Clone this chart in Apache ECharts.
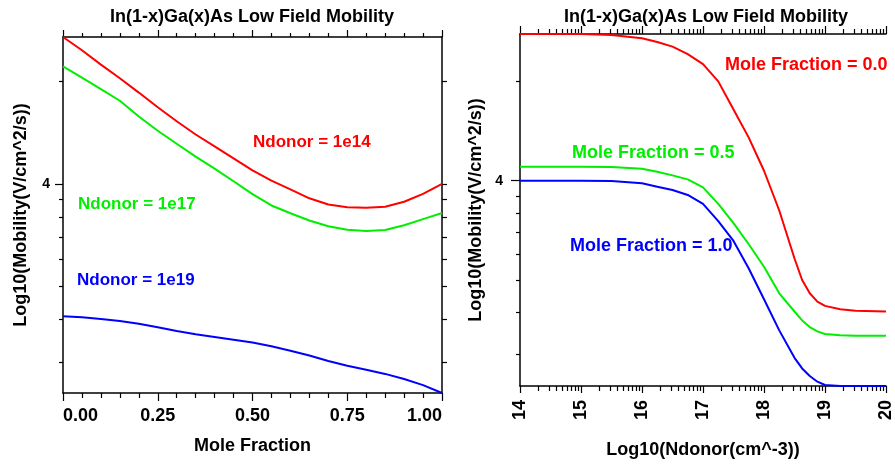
<!DOCTYPE html>
<html>
<head>
<meta charset="utf-8">
<script src="https://cdn.jsdelivr.net/npm/echarts@6/dist/echarts.min.js"></script>
<style>
html,body{margin:0;padding:0;background:#fff;}
#chart{width:895px;height:464px;}
</style>
</head>
<body>
<div id="chart"></div>
<script>
// ---------- Left panel: Log10(mobility) vs mole fraction ----------
const moleFraction = [0,0.05,0.1,0.15,0.2,0.25,0.3,0.35,0.4,0.45,0.5,0.55,0.6,0.65,0.7,0.75,0.8,0.85,0.9,0.95,1.0];
const mobNd1e14 = [4.431,4.392,4.350,4.310,4.268,4.225,4.184,4.145,4.110,4.075,4.040,4.010,3.984,3.958,3.940,3.932,3.930,3.933,3.948,3.971,4.000];
const mobNd1e17 = [4.345,4.312,4.278,4.244,4.198,4.156,4.118,4.080,4.045,4.008,3.970,3.937,3.914,3.893,3.876,3.866,3.862,3.865,3.879,3.897,3.915];
const mobNd1e19 = [3.612,3.609,3.604,3.598,3.590,3.580,3.569,3.559,3.551,3.543,3.535,3.524,3.511,3.497,3.481,3.467,3.455,3.443,3.428,3.410,3.387];

// ---------- Right panel: Log10(mobility) vs Log10(Ndonor) ----------
const logNdonor = [14,14.5,15,15.5,16,16.25,16.5,16.75,17,17.25,17.5,17.75,18,18.25,18.5,18.625,18.75,18.875,19,19.25,19.5,20];
const mobX00 = [4.443,4.443,4.443,4.440,4.430,4.419,4.405,4.382,4.352,4.300,4.215,4.130,4.030,3.910,3.765,3.700,3.660,3.635,3.622,3.612,3.607,3.605];
const mobX05 = [4.042,4.042,4.042,4.041,4.036,4.027,4.016,4.004,3.980,3.930,3.872,3.808,3.740,3.660,3.605,3.578,3.558,3.545,3.537,3.533,3.532,3.532];
const mobX10 = [4.000,4.000,4.000,3.999,3.992,3.982,3.972,3.957,3.930,3.878,3.818,3.735,3.642,3.548,3.465,3.433,3.410,3.393,3.383,3.380,3.380,3.380];

// ---------- Axis ranges and tick values ----------
const leftYRange = [3.387, 4.431];
const rightYRange = [3.380, 4.443];
const mobilityTickValues = [2000,3000,4000,5000,6000,7000,8000,9000,20000]; // minor (log) ticks
const mobilityMajorTicks = [4];
const ndonorDecades = [14,15,16,17,18,19,20];
const ndonorMinorMultipliers = [2,3,4,5,6,7,8,9];

const title = 'In(1-x)Ga(x)As Low Field Mobility';
const leftLabels = ['Ndonor = 1e14','Ndonor = 1e17','Ndonor = 1e19'];
const rightLabels = ['Mole Fraction = 0.0','Mole Fraction = 0.5','Mole Fraction = 1.0'];
const colors = ['#ff0000','#00ee00','#0000ff'];

// ---------- build ----------
const FONT = 'Liberation Sans, Arial, Helvetica, sans-serif';
function inRange(v, r){ return v >= r[0]-1e-9 && v <= r[1]+1e-9; }
const minorLog = mobilityTickValues.map(v => Math.log10(v));
const leftMinor = minorLog.filter(v => inRange(v, leftYRange));
const rightMinor = minorLog.filter(v => inRange(v, rightYRange));
const ndMinor = [];
ndonorDecades.slice(0,-1).forEach(d => ndonorMinorMultipliers.forEach(k => ndMinor.push(d + Math.log10(k))));

const axisLine = {show:true, lineStyle:{color:'#000', width:1.5}};
const tickStyle = {color:'#000', width:1.2};
const pair = (xs, ys) => xs.map((x,i)=>[x, ys[i]]);

const grids = [
  {left:63, top:37, width:379, height:356},
  {left:520, top:34, width:373, height:354}
];

const xAxis = [
  {gridIndex:0, type:'value', position:'bottom', min:0, max:1, interval:0.25,
   axisLine, axisTick:{length:8, lineStyle:tickStyle},
   minorTick:{show:true, splitNumber:5, length:5, lineStyle:tickStyle},
   splitLine:{show:false}, minorSplitLine:{show:false},
   axisLabel:{margin:14, fontFamily:FONT, fontWeight:'bold', fontSize:18, color:'#000',
     formatter: v => v.toFixed(2), alignMinLabel:'left', alignMaxLabel:'right'},
   name:'Mole Fraction', nameLocation:'middle', nameGap:44,
   nameTextStyle:{fontFamily:FONT, fontWeight:'bold', fontSize:18, color:'#000', verticalAlign:'top'}},
  {gridIndex:0, type:'value', position:'top', min:0, max:1, interval:0.25,
   axisLine, axisTick:{length:7, lineStyle:tickStyle},
   minorTick:{show:true, splitNumber:5, length:4, lineStyle:tickStyle},
   splitLine:{show:false}, axisLabel:{show:false}},
  {gridIndex:1, type:'value', position:'bottom', min:14, max:20, interval:1,
   axisLine, axisTick:{length:7, lineStyle:tickStyle}, splitLine:{show:false},
   axisLabel:{rotate:90, margin:14, fontFamily:FONT, fontWeight:'bold', fontSize:18, color:'#000'},
   name:'Log10(Ndonor(cm^-3))', nameLocation:'middle', nameGap:55,
   nameTextStyle:{fontFamily:FONT, fontWeight:'bold', fontSize:18, color:'#000', verticalAlign:'top'}},
  {gridIndex:1, type:'value', position:'bottom', min:14, max:20,
   axisLine:{show:false}, axisTick:{length:5, customValues:ndMinor, lineStyle:tickStyle},
   splitLine:{show:false}, axisLabel:{show:false}},
  {gridIndex:1, type:'value', position:'top', min:14, max:20, interval:1,
   axisLine, axisTick:{length:8, lineStyle:tickStyle}, splitLine:{show:false}, axisLabel:{show:false}},
  {gridIndex:1, type:'value', position:'top', min:14, max:20,
   axisLine:{show:false}, axisTick:{length:5, customValues:ndMinor, lineStyle:tickStyle},
   splitLine:{show:false}, axisLabel:{show:false}}
];

const yName = 'Log10(Mobility(V/cm^2/s))';
const yAxis = [
  {gridIndex:0, type:'value', position:'left', min:leftYRange[0], max:leftYRange[1],
   axisLine, axisTick:{length:8, customValues:mobilityMajorTicks, lineStyle:tickStyle}, splitLine:{show:false},
   axisLabel:{customValues:mobilityMajorTicks, margin:13, fontFamily:FONT, fontWeight:'bold', fontSize:14, color:'#000'},
   name:yName, nameLocation:'middle', nameGap:33,
   nameTextStyle:{fontFamily:FONT, fontWeight:'bold', fontSize:18, color:'#000'}},
  {gridIndex:0, type:'value', position:'left', min:leftYRange[0], max:leftYRange[1],
   axisLine:{show:false}, axisTick:{length:4, customValues:leftMinor, lineStyle:tickStyle},
   splitLine:{show:false}, axisLabel:{show:false}},
  {gridIndex:0, type:'value', position:'right', min:leftYRange[0], max:leftYRange[1],
   axisLine, axisTick:{length:5, customValues:leftMinor.concat(mobilityMajorTicks), lineStyle:tickStyle},
   splitLine:{show:false}, axisLabel:{show:false}},
  {gridIndex:1, type:'value', position:'left', min:rightYRange[0], max:rightYRange[1],
   axisLine, axisTick:{length:9, customValues:mobilityMajorTicks, lineStyle:tickStyle}, splitLine:{show:false},
   axisLabel:{customValues:mobilityMajorTicks, margin:17, fontFamily:FONT, fontWeight:'bold', fontSize:14, color:'#000'},
   name:yName, nameLocation:'middle', nameGap:35,
   nameTextStyle:{fontFamily:FONT, fontWeight:'bold', fontSize:18, color:'#000'}},
  {gridIndex:1, type:'value', position:'left', min:rightYRange[0], max:rightYRange[1],
   axisLine:{show:false}, axisTick:{length:4, customValues:rightMinor, lineStyle:tickStyle},
   splitLine:{show:false}, axisLabel:{show:false}}
];

function line(xi, yi, xs, ys, color){
  return {type:'line', xAxisIndex:xi, yAxisIndex:yi, data:pair(xs, ys),
    showSymbol:false, smooth:false, clip:false, animation:false,
    lineStyle:{color, width:2}, itemStyle:{color}};
}
const series = [
  line(0,0,moleFraction,mobNd1e14,colors[0]),
  line(0,0,moleFraction,mobNd1e17,colors[1]),
  line(0,0,moleFraction,mobNd1e19,colors[2]),
  line(2,3,logNdonor,mobX00,colors[0]),
  line(2,3,logNdonor,mobX05,colors[1]),
  line(2,3,logNdonor,mobX10,colors[2])
];

const labelFont = (s) => 'bold ' + s + 'px ' + FONT;
function txt(text, x, y, color, size){
  return {type:'text', x, y, silent:true,
    style:{text, fill:color, font:labelFont(size), textAlign:'left', textVerticalAlign:'middle'}};
}
const graphic = [
  txt(leftLabels[0], 253, 142, colors[0], 17),
  txt(leftLabels[1], 78, 204, colors[1], 17),
  txt(leftLabels[2], 77, 280, colors[2], 17),
  txt(rightLabels[0], 725, 65, colors[0], 18),
  txt(rightLabels[1], 572, 153, colors[1], 18),
  txt(rightLabels[2], 570, 246, colors[2], 18)
];

const chart = echarts.init(document.getElementById('chart'), null, {renderer:'canvas'});
chart.setOption({
  animation:false,
  backgroundColor:'#fff',
  title:[
    {text:title, left:252, top:8, padding:0, textAlign:'center',
     textStyle:{fontFamily:FONT, fontWeight:'bold', fontSize:18, color:'#000'}},
    {text:title, left:706, top:8, padding:0, textAlign:'center',
     textStyle:{fontFamily:FONT, fontWeight:'bold', fontSize:18, color:'#000'}}
  ],
  grid:grids,
  xAxis, yAxis, series, graphic
});
</script>
</body>
</html>
